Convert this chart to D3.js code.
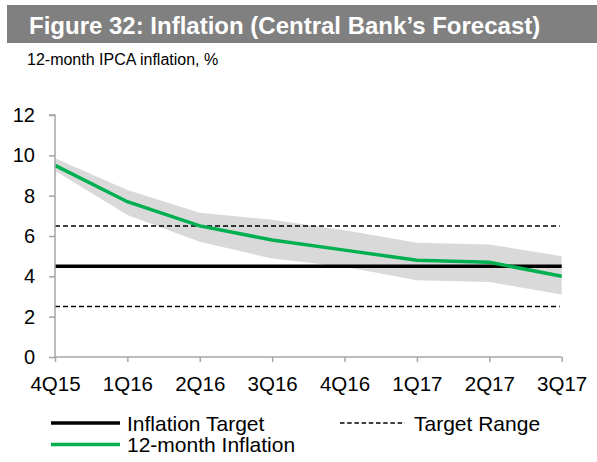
<!DOCTYPE html>
<html><head><meta charset="utf-8">
<script src="https://cdn.jsdelivr.net/npm/d3@7"></script>
<style>body{margin:0;background:#fff;font-family:"Liberation Sans",Arial,sans-serif;}</style>
</head><body><svg id="c" width="597" height="462"></svg>
<script>
const quarters = ["4Q15","1Q16","2Q16","3Q16","4Q16","1Q17","2Q17","3Q17"];
const inflation = [9.5, 7.7, 6.5, 5.8, 5.3, 4.8, 4.7, 4.0];
const bandUpper = [9.85, 8.28, 7.15, 6.8, 6.29, 5.66, 5.58, 5.0];
const bandLower = [9.24, 7.04, 5.71, 4.88, 4.47, 3.81, 3.72, 3.1];
const targetValue = 4.5;
const rangeValues = [2.5, 6.5];
const yTicks = [0, 2, 4, 6, 8, 10, 12];

const svg = d3.select("#c");
const font = "Liberation Sans, Arial, sans-serif";

// header
svg.append("rect").attr("x",7).attr("y",5).attr("width",590).attr("height",38).attr("fill","#808080");
svg.append("text").attr("x",29).attr("y",34).attr("fill","#fff").attr("font-weight","bold")
  .attr("font-size",24).attr("font-family",font).text("Figure 32: Inflation (Central Bank\u2019s Forecast)");
svg.append("text").attr("x",27).attr("y",65).attr("fill","#000").attr("font-size",16)
  .attr("font-family",font).text("12-month IPCA inflation, %");

const x = d3.scalePoint().domain(quarters).range([55, 561.7]);
const y = d3.scaleLinear().domain([0, 12]).range([357, 115]);

const g = svg.append("g");

// band
const area = d3.area().x((d,i)=>x(quarters[i])).y0((d,i)=>y(bandLower[i])).y1((d,i)=>y(bandUpper[i]));
g.append("path").datum(bandUpper).attr("d", area).attr("fill","#d9d9d9");

// range lines
rangeValues.forEach(v=>{
  g.append("line").attr("x1",x.range()[0]).attr("x2",x.range()[1]-2).attr("y1",y(v)).attr("y2",y(v))
   .attr("stroke","#000").attr("stroke-width",1.5).attr("stroke-dasharray","5,3");
});
// target line
g.append("line").attr("x1",x.range()[0]).attr("x2",x.range()[1]).attr("y1",y(targetValue)).attr("y2",y(targetValue))
  .attr("stroke","#000").attr("stroke-width",3.5);

// inflation line
const line = d3.line().x((d,i)=>x(quarters[i])).y(d=>y(d));
g.append("path").datum(inflation).attr("d", line).attr("fill","none").attr("stroke","#00b050").attr("stroke-width",3.5);

// axes
const yAxis = d3.axisLeft(y).tickValues(yTicks).tickSize(6).tickPadding(14);
const ya = svg.append("g").attr("transform","translate(55,0)").call(yAxis);
const xAxis = d3.axisBottom(x).tickSize(5).tickPadding(14);
const xa = svg.append("g").attr("transform",`translate(0,${y(0)})`).call(xAxis);
[ya, xa].forEach(a=>{
  a.select(".domain").attr("stroke","#a6a6a6").attr("stroke-width",1.5);
  a.selectAll(".tick line").attr("stroke","#a6a6a6").attr("stroke-width",1.5);
  a.selectAll("text").attr("font-size",20).attr("font-family",font).attr("fill","#000");
});
xa.selectAll("text").attr("font-size",20.5);
ya.select(".domain").attr("d", `M-6,${y(12)}H0V${y(0)}`);
xa.select(".domain").attr("d", `M${x.range()[0]},0H${x.range()[1]}`);

// legend
const leg = svg.append("g");
leg.append("line").attr("x1",51).attr("x2",120).attr("y1",423).attr("y2",423).attr("stroke","#000").attr("stroke-width",3.5);
leg.append("text").attr("x",127).attr("y",430.5).attr("font-size",21).attr("font-family",font).text("Inflation Target");
leg.append("line").attr("x1",340).attr("x2",405).attr("y1",423).attr("y2",423).attr("stroke","#000").attr("stroke-width",1.3).attr("stroke-dasharray","4.5,2.7");
leg.append("text").attr("x",414).attr("y",430.5).attr("font-size",21).attr("font-family",font).text("Target Range");
leg.append("line").attr("x1",51).attr("x2",120).attr("y1",444.5).attr("y2",444.5).attr("stroke","#00b050").attr("stroke-width",3.5);
leg.append("text").attr("x",127).attr("y",452).attr("font-size",21).attr("font-family",font).text("12-month Inflation");
</script></body></html>
